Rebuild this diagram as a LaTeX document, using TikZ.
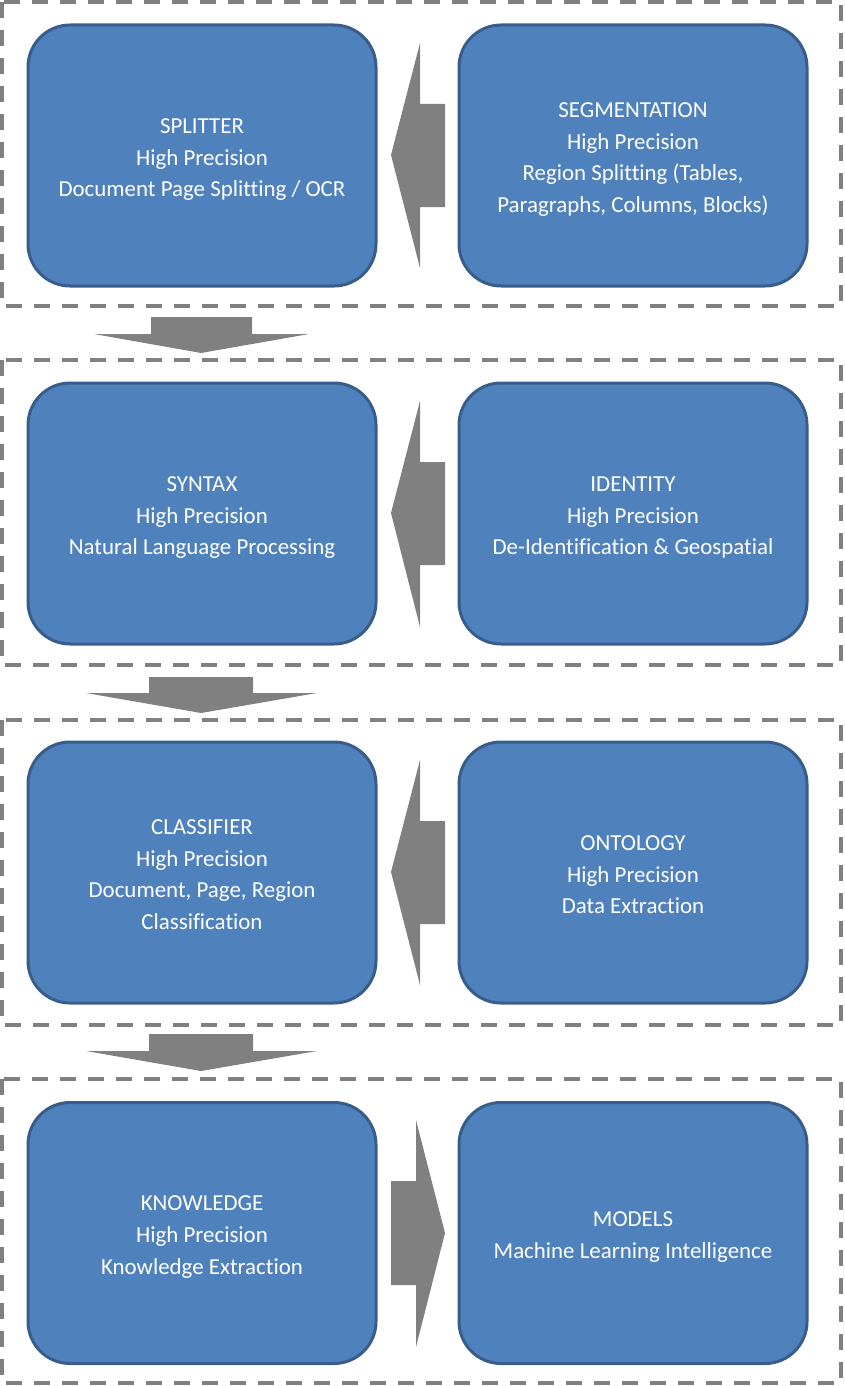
\documentclass[tikz,border=0pt]{standalone}
\usepackage{fontspec}
\setmainfont{Carlito}[Ligatures=NoCommon]
\definecolor{boxfill}{HTML}{4F81BD}
\definecolor{boxline}{HTML}{385D8A}
\definecolor{arrowgray}{HTML}{808080}
\newcommand\tfirst{\rule{0pt}{29pt}}
\begin{document}
\begin{tikzpicture}[x=1pt,y=-1pt,
  box/.style={draw=boxline, line width=3pt, fill=boxfill, rounded corners=42pt,
    minimum width=348pt, minimum height=261pt, align=center, text=white,
    font=\fontsize{22.9}{31.6}\selectfont, inner sep=0pt,
    execute at end node={\rule[-10pt]{0pt}{0pt}}},
  frame/.style={draw=arrowgray, line width=3.5pt, dash pattern=on 16pt off 12pt},
  blockarrow/.style={fill=arrowgray, draw=none}]
\useasboundingbox (0,0) rectangle (844,1386);
% frames
\draw[frame] (2,2) rectangle (841,306);
\draw[frame] (2,360) rectangle (841,665);
\draw[frame] (2,720) rectangle (841,1025);
\draw[frame] (2,1079) rectangle (841,1383);
% boxes
\node[box] (splitter) at (202,155.5) {\tfirst SPLITTER\\High Precision\\Document Page Splitting / OCR};
\node[box] (segmentation) at (633,155.5) {\tfirst SEGMENTATION\\High Precision\\Region Splitting (Tables,\\Paragraphs, Columns, Blocks)};
\node[box] (syntax) at (202,513.5) {\tfirst SYNTAX\\High Precision\\Natural Language Processing};
\node[box] (identity) at (633,513.5) {\tfirst IDENTITY\\High Precision\\De-Identification \& Geospatial};
\node[box] (classifier) at (202,872.5) {\tfirst CLASSIFIER\\High Precision\\Document, Page, Region\\Classification};
\node[box] (ontology) at (633,872.5) {\tfirst ONTOLOGY\\High Precision\\Data Extraction};
\node[box] (knowledge) at (202,1233) {\tfirst KNOWLEDGE\\High Precision\\Knowledge Extraction};
\node[box] (models) at (633,1233) {\tfirst MODELS\\Machine Learning Intelligence};
% left-pointing block arrows
\fill[blockarrow] (445,104) -- (420,104) -- (420,43) -- (391,155) -- (420,268) -- (420,207) -- (445,207) -- cycle;
\fill[blockarrow] (445,462) -- (420,462) -- (420,401) -- (391,513) -- (420,627) -- (420,565) -- (445,565) -- cycle;
\fill[blockarrow] (445,821) -- (420,821) -- (420,760) -- (391,872) -- (420,985) -- (420,924) -- (445,924) -- cycle;
% right-pointing block arrow
\fill[blockarrow] (391,1181) -- (416,1181) -- (416,1120) -- (445,1233) -- (416,1347) -- (416,1285) -- (391,1285) -- cycle;
% down block arrows
\fill[blockarrow] (151,317) -- (252,317) -- (252,334) -- (309,334) -- (201,353) -- (94,334) -- (151,334) -- cycle;
\fill[blockarrow] (149,677) -- (253,677) -- (253,693) -- (317,693) -- (201,713) -- (86,693) -- (149,693) -- cycle;
\fill[blockarrow] (149,1034) -- (253,1034) -- (253,1051) -- (317,1051) -- (201,1071) -- (86,1051) -- (149,1051) -- cycle;
\end{tikzpicture}
\end{document}
